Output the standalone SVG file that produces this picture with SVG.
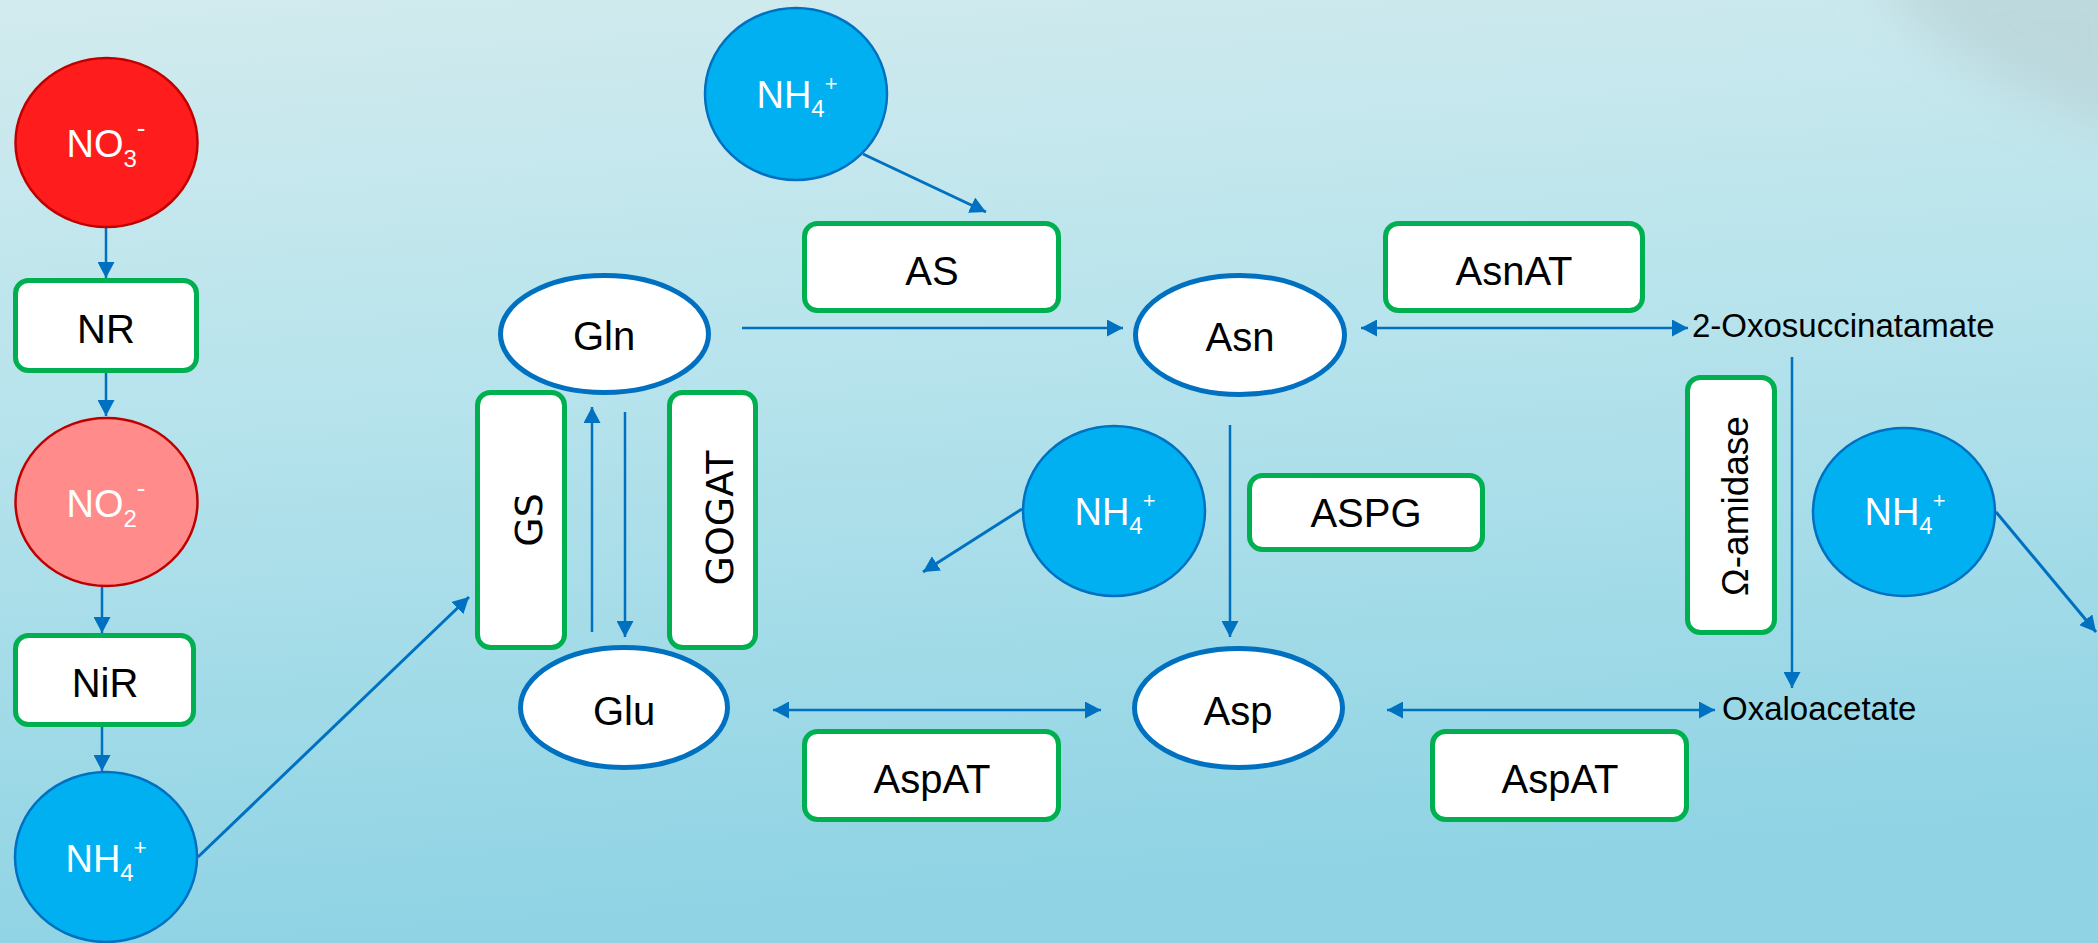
<svg xmlns="http://www.w3.org/2000/svg" width="2098" height="943" viewBox="0 0 2098 943">
<defs>
<linearGradient id="bg" x1="0" y1="0" x2="0.15" y2="1">
<stop offset="0" stop-color="#D2EBEE"/>
<stop offset="0.45" stop-color="#B6E3EC"/>
<stop offset="1" stop-color="#8FD3E4"/>
</linearGradient>
<filter id="blur" x="-50%" y="-50%" width="200%" height="200%"><feGaussianBlur stdDeviation="25"/></filter>
<marker id="ah" viewBox="0 0 16 17" refX="16" refY="8.5" markerWidth="16" markerHeight="17" markerUnits="userSpaceOnUse" orient="auto-start-reverse">
<path d="M0,0 L16,8.5 L0,17 z" fill="#0070C0"/>
</marker>
<style>
.box{fill:#FFFFFF;stroke:#00B050;stroke-width:5}
.mol{fill:#FFFFFF;stroke:#0070C0;stroke-width:5}
.nh4{fill:#00B0F0;stroke:#0070C0;stroke-width:2.5}
.no3{fill:#FF1C1C;stroke:#C00000;stroke-width:2.5}
.no2{fill:#FF8B8B;stroke:#C00000;stroke-width:2.5}
.lbl{font-family:"Liberation Sans",Arial,sans-serif;font-size:40px;fill:#000000;text-anchor:middle}
.vlbl{font-family:"DejaVu Sans",Verdana,sans-serif;font-size:38px;fill:#000000;text-anchor:middle}
.wl{font-family:"Liberation Sans",Arial,sans-serif;font-size:38px;fill:#FFFFFF;text-anchor:middle}
.plain{font-family:"Liberation Sans",Arial,sans-serif;font-size:33px;fill:#000000}
.c{fill:none;stroke:#0070C0;stroke-width:2.5;marker-end:url(#ah)}
.c2{fill:none;stroke:#0070C0;stroke-width:2.5;marker-end:url(#ah);marker-start:url(#ah)}
.co{fill:none;stroke:#0070C0;stroke-width:3;marker-end:url(#ah)}
</style>
</defs>
<rect x="0" y="0" width="2098" height="943" fill="url(#bg)"/>
<path d="M1860,-40 C1930,50 2010,100 2140,140 L2140,-40 Z" fill="#B6CFD3" opacity="0.6" filter="url(#blur)"/>

<g id="connectors">
<path class="c" d="M106,228 V278"/>
<path class="c" d="M106,373 V416"/>
<path class="c" d="M102,587 V633"/>
<path class="c" d="M102,727 V771"/>
<path class="co" d="M198,857 L469,597"/>
<path class="c" d="M592,632 V407"/>
<path class="c" d="M625,412 V637"/>
<path class="co" d="M863,154 L986,212"/>
<path class="c" d="M742,328 H1123"/>
<path class="c2" d="M1361,328 H1688"/>
<path class="c" d="M1230,425 V637"/>
<path class="co" d="M1022,509 L923,572"/>
<path class="c2" d="M773,710 H1101"/>
<path class="c2" d="M1387,710 H1715"/>
<path class="c" d="M1792,357 V688"/>
<path class="co" d="M1996,512 L2096,632"/>
</g>

<g id="no3">
<ellipse class="no3" cx="106.5" cy="142.5" rx="91" ry="84.5"/>
<text class="wl" x="106" y="157">NO<tspan font-size="24" dy="10">3</tspan><tspan font-size="26" dy="-30">-</tspan></text>
</g>
<g id="nr">
<rect class="box" x="15.5" y="280.5" width="181" height="90" rx="13"/>
<text class="lbl" x="106" y="343">NR</text>
</g>
<g id="no2">
<ellipse class="no2" cx="106.5" cy="502" rx="91" ry="84"/>
<text class="wl" x="106" y="517">NO<tspan font-size="24" dy="10">2</tspan><tspan font-size="26" dy="-30">-</tspan></text>
</g>
<g id="nir">
<rect class="box" x="15.5" y="635.5" width="178" height="89" rx="13"/>
<text class="lbl" x="105" y="697">NiR</text>
</g>
<g id="nh4-a">
<ellipse class="nh4" cx="106" cy="857" rx="91" ry="85"/>
<text class="wl" x="106" y="872">NH<tspan font-size="24" dy="9">4</tspan><tspan font-size="22" dy="-26">+</tspan></text>
</g>

<g id="gln">
<ellipse class="mol" cx="604.5" cy="334" rx="104" ry="58.5"/>
<text class="lbl" x="604" y="350">Gln</text>
</g>
<g id="gs">
<rect class="box" x="477.5" y="392.5" width="87" height="255" rx="13"/>
<text class="vlbl" transform="translate(542,520) rotate(-90)">GS</text>
</g>
<g id="gogat">
<rect class="box" x="669.5" y="392.5" width="86" height="255" rx="13"/>
<text class="vlbl" transform="translate(733,518) rotate(-90)">GOGAT</text>
</g>
<g id="glu">
<ellipse class="mol" cx="624" cy="707.5" rx="103.5" ry="60"/>
<text class="lbl" x="624" y="725">Glu</text>
</g>

<g id="nh4-b">
<ellipse class="nh4" cx="796" cy="94" rx="91" ry="86"/>
<text class="wl" x="797" y="108">NH<tspan font-size="24" dy="9">4</tspan><tspan font-size="22" dy="-26">+</tspan></text>
</g>
<g id="as">
<rect class="box" x="804.5" y="223.5" width="254" height="87" rx="13"/>
<text class="lbl" x="932" y="285">AS</text>
</g>
<g id="aspat-a">
<rect class="box" x="804.5" y="731.5" width="254" height="88" rx="13"/>
<text class="lbl" x="932" y="793">AspAT</text>
</g>

<g id="asn">
<ellipse class="mol" cx="1240" cy="335" rx="104.5" ry="59.5"/>
<text class="lbl" x="1240" y="351">Asn</text>
</g>
<g id="nh4-c">
<ellipse class="nh4" cx="1114" cy="511" rx="91" ry="85"/>
<text class="wl" x="1115" y="525">NH<tspan font-size="24" dy="9">4</tspan><tspan font-size="22" dy="-26">+</tspan></text>
</g>
<g id="aspg">
<rect class="box" x="1249.5" y="475.5" width="233" height="74" rx="13"/>
<text class="lbl" x="1366" y="527">ASPG</text>
</g>
<g id="asp">
<ellipse class="mol" cx="1238.5" cy="708" rx="104" ry="59.5"/>
<text class="lbl" x="1238" y="725">Asp</text>
</g>

<g id="asnat">
<rect class="box" x="1385.5" y="223.5" width="257" height="87" rx="13"/>
<text class="lbl" x="1514" y="285">AsnAT</text>
</g>
<g id="aspat-b">
<rect class="box" x="1432.5" y="731.5" width="254" height="88" rx="13"/>
<text class="lbl" x="1560" y="793">AspAT</text>
</g>
<g id="oxosuccinamate">
<text class="plain" x="1692" y="337">2-Oxosuccinatamate</text>
</g>
<g id="oxaloacetate">
<text class="plain" x="1722" y="720">Oxaloacetate</text>
</g>
<g id="amidase">
<rect class="box" x="1687.5" y="377.5" width="87" height="255" rx="13"/>
<text class="lbl" style="font-size:37px" transform="translate(1748,506) rotate(-90)">Ω-amidase</text>
</g>
<g id="nh4-d">
<ellipse class="nh4" cx="1904" cy="512" rx="91" ry="84"/>
<text class="wl" x="1905" y="525">NH<tspan font-size="24" dy="9">4</tspan><tspan font-size="22" dy="-26">+</tspan></text>
</g>
</svg>
